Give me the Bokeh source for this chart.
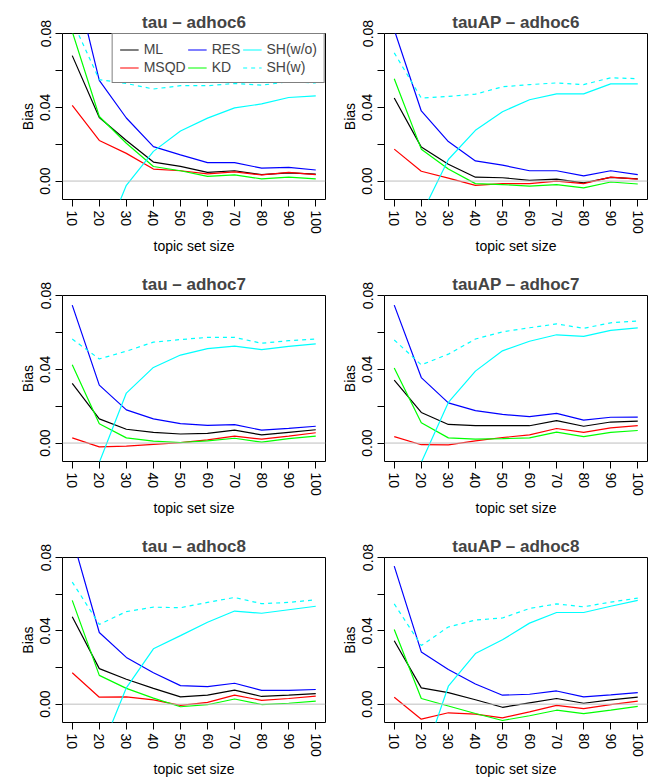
import numpy as np
from bokeh.plotting import figure
from bokeh.layouts import column, row
from bokeh.models import (Range1d, FixedTicker, CustomJSTickFormatter, Span,
                          Legend, LegendItem)
from bokeh.embed import file_html
from bokeh.resources import INLINE

# ---------------- data ----------------
topic_sizes = [10, 20, 30, 40, 50, 60, 70, 80, 90, 100]
y_ticks = [0.0, 0.02, 0.04, 0.06, 0.08]
y_tick_labels = ["0.00", "", "0.04", "", "0.08"]
methods = ["ML", "MSQD", "RES", "KD", "SH(w/o)", "SH(w)"]
panel_titles = ["tau \u2013 adhoc6", "tauAP \u2013 adhoc6",
                "tau \u2013 adhoc7", "tauAP \u2013 adhoc7",
                "tau \u2013 adhoc8", "tauAP \u2013 adhoc8"]

tau_adhoc6 = {
    "ML":      [0.068, 0.0345, 0.022, 0.0103, 0.008, 0.0047, 0.0056, 0.0035, 0.0044, 0.0038],
    "MSQD":    [0.041, 0.022, 0.015, 0.0065, 0.0056, 0.0039, 0.005, 0.0033, 0.0047, 0.0035],
    "RES":     [0.115, 0.0546, 0.0342, 0.0187, 0.0142, 0.010, 0.010, 0.007, 0.0074, 0.006],
    "KD":      [0.081, 0.035, 0.0205, 0.0079, 0.0056, 0.0025, 0.0033, 0.0012, 0.0021, 0.0012],
    "SH(w/o)": [-0.09, -0.038, -0.0023, 0.0161, 0.0271, 0.0341, 0.0397, 0.0418, 0.0453, 0.0462],
    "SH(w)":   [0.087, 0.055, 0.0529, 0.0499, 0.0517, 0.0517, 0.0529, 0.052, 0.0538, 0.0532],
}
tauap_adhoc6 = {
    "ML":      [0.045, 0.0184, 0.0091, 0.0021, 0.0018, 0.0004, 0.001, -0.001, 0.002, 0.0012],
    "MSQD":    [0.0173, 0.0053, 0.0016, -0.0023, -0.0014, -0.0014, 0.0, -0.0014, 0.0021, 0.001],
    "RES":     [0.082, 0.038, 0.0214, 0.0109, 0.0086, 0.0056, 0.0056, 0.0028, 0.0056, 0.0035],
    "KD":      [0.0555, 0.0173, 0.0065, -0.0014, -0.0019, -0.0028, -0.0019, -0.0037, -0.0005, -0.0016],
    "SH(w/o)": [-0.06, -0.0182, 0.0117, 0.0275, 0.0376, 0.0441, 0.0473, 0.0473, 0.0527, 0.0527],
    "SH(w)":   [0.0695, 0.045, 0.0459, 0.0471, 0.0511, 0.0523, 0.0532, 0.0523, 0.056, 0.0555],
}
tau_adhoc7 = {
    "ML":      [0.0323, 0.0131, 0.0075, 0.0058, 0.0049, 0.0052, 0.007, 0.0044, 0.0058, 0.0072],
    "MSQD":    [0.0028, -0.0021, -0.0017, -0.0007, 0.0002, 0.0017, 0.0038, 0.0021, 0.0038, 0.0056],
    "RES":     [0.0748, 0.0314, 0.018, 0.0131, 0.0105, 0.0096, 0.010, 0.007, 0.008, 0.0091],
    "KD":      [0.0424, 0.0105, 0.0028, 0.001, 0.0003, 0.0012, 0.0026, 0.0005, 0.0024, 0.0038],
    "SH(w/o)": [-0.05, -0.0105, 0.0271, 0.041, 0.0477, 0.0512, 0.0526, 0.0507, 0.0524, 0.0538],
    "SH(w)":   [0.0564, 0.0456, 0.0498, 0.0547, 0.0561, 0.0573, 0.0573, 0.0541, 0.0555, 0.0564],
}
tauap_adhoc7 = {
    "ML":      [0.0341, 0.0166, 0.0101, 0.0094, 0.0094, 0.0094, 0.0122, 0.0091, 0.0114, 0.0119],
    "MSQD":    [0.0035, -0.0009, -0.001, 0.0012, 0.003, 0.0044, 0.0079, 0.0058, 0.0082, 0.0094],
    "RES":     [0.0748, 0.0355, 0.0218, 0.0176, 0.0155, 0.0143, 0.0161, 0.0124, 0.014, 0.0141],
    "KD":      [0.0407, 0.011, 0.0028, 0.0021, 0.0024, 0.0028, 0.0059, 0.0035, 0.0058, 0.0068],
    "SH(w/o)": [-0.05, -0.0105, 0.022, 0.039, 0.050, 0.0552, 0.0587, 0.0578, 0.0611, 0.0625],
    "SH(w)":   [0.0559, 0.0424, 0.0482, 0.0564, 0.0603, 0.0625, 0.0646, 0.0622, 0.0652, 0.0662],
}
tau_adhoc8 = {
    "ML":      [0.0477, 0.0194, 0.0136, 0.0086, 0.004, 0.0049, 0.0077, 0.0042, 0.0049, 0.0058],
    "MSQD":    [0.0171, 0.0038, 0.004, 0.0023, -0.0007, 0.001, 0.0049, 0.0021, 0.0031, 0.0044],
    "RES":     [0.0909, 0.0391, 0.0255, 0.0171, 0.0101, 0.0096, 0.0114, 0.0075, 0.0075, 0.008],
    "KD":      [0.0566, 0.0157, 0.0086, 0.0033, -0.0014, -0.0003, 0.0028, -0.0002, 0.0005, 0.0017],
    "SH(w/o)": [-0.07, -0.0274, 0.0089, 0.0302, 0.0374, 0.0447, 0.0508, 0.0496, 0.0515, 0.0534],
    "SH(w)":   [0.0666, 0.0435, 0.0505, 0.0529, 0.0526, 0.0555, 0.0582, 0.0548, 0.0555, 0.0569],
}
tauap_adhoc8 = {
    "ML":      [0.0346, 0.0089, 0.0063, 0.0024, -0.0017, 0.0007, 0.0031, 0.0005, 0.0023, 0.0038],
    "MSQD":    [0.0038, -0.0082, -0.0047, -0.0054, -0.0075, -0.0042, -0.0007, -0.0024, -0.0003, 0.0017],
    "RES":     [0.0753, 0.0285, 0.0189, 0.011, 0.0049, 0.0054, 0.0072, 0.004, 0.0051, 0.0063],
    "KD":      [0.0407, 0.0031, -0.001, -0.0051, -0.0089, -0.0063, -0.0033, -0.0052, -0.0033, -0.0012],
    "SH(w/o)": [-0.07, -0.0332, 0.0098, 0.0276, 0.0351, 0.0442, 0.050, 0.050, 0.0534, 0.0566],
    "SH(w)":   [0.0547, 0.032, 0.0421, 0.0459, 0.047, 0.0522, 0.0547, 0.0531, 0.0557, 0.0578],
}
panels = [tau_adhoc6, tauap_adhoc6, tau_adhoc7, tauap_adhoc7, tau_adhoc8, tauap_adhoc8]

# ---------------- styles ----------------
colors = {"ML": "#000000", "MSQD": "#FF0000", "RES": "#0000FF",
          "KD": "#00FF00", "SH(w/o)": "#00FFFF", "SH(w)": "#00FFFF"}
dashes = {"SH(w)": "4 4"}
FONT = "Liberation Sans"

fmt_code = """
const labs = %s;
for (const k in labs) { if (Math.abs(parseFloat(k) - tick) < 1e-9) return labs[k]; }
return "";
""" % (str({str(t): l for t, l in zip(y_ticks, y_tick_labels)}).replace("'", '"'))

ROW_TOP = [33, 39, 39]
ROW_BOTTOM = [52, 52, 51]
COL_LEFT = [62, 58]
COL_RIGHT = [1, 9]
FRAME_W = 263
FRAME_H = 171


def make_panel(idx, data):
    col = idx % 2
    r = idx // 2
    p = figure(width=COL_LEFT[col] + FRAME_W + COL_RIGHT[col],
               height=ROW_TOP[r] + FRAME_H + ROW_BOTTOM[r],
               x_range=Range1d(6.4, 103.6), y_range=Range1d(-0.01, 0.08),
               output_backend="svg", toolbar_location=None,
               min_border_left=COL_LEFT[col], min_border_right=COL_RIGHT[col],
               min_border_top=ROW_TOP[r], min_border_bottom=ROW_BOTTOM[r],
               title=panel_titles[idx])
    p.title.text_font = FONT
    p.title.text_font_size = "17px"
    p.title.text_font_style = "bold"
    p.title.align = "center"
    p.title.offset = 0
    p.title.standoff = 4
    p.xgrid.visible = False
    p.ygrid.visible = False
    p.outline_line_color = "black"
    p.outline_line_width = 1
    p.outline_line_alpha = 1
    p.background_fill_color = "white"
    p.border_fill_color = "white"

    p.add_layout(Span(location=0, dimension="width", line_color="#BEBEBE", line_width=1))

    renderers = {}
    for m in methods:
        renderers[m] = p.line(topic_sizes, data[m], line_color=colors[m],
                              line_width=1.2, line_dash=dashes.get(m, "solid"))

    for ax in (p.xaxis[0], p.yaxis[0]):
        ax.axis_line_color = None
        ax.major_tick_out = 7
        ax.major_tick_in = 0
        ax.minor_tick_out = 0
        ax.minor_tick_in = 0
        ax.major_tick_line_color = "black"
        ax.major_label_text_font = FONT
        ax.major_label_text_font_size = "14px"
        ax.major_label_text_color = "black"
        ax.axis_label_text_font = FONT
        ax.axis_label_text_font_size = "14px"
        ax.axis_label_text_font_style = "normal"
        ax.axis_label_text_color = "black"

    p.xaxis.ticker = FixedTicker(ticks=topic_sizes)
    p.xaxis.major_label_orientation = "vertical"
    p.xaxis.major_label_standoff = 4
    p.xaxis.axis_label = "topic set size"
    p.xaxis.axis_label_standoff = 1

    p.yaxis.ticker = FixedTicker(ticks=y_ticks)
    p.yaxis.formatter = CustomJSTickFormatter(code=fmt_code)
    p.yaxis.major_label_orientation = "vertical"
    p.yaxis.major_label_standoff = 5
    p.yaxis.axis_label = "Bias"
    p.yaxis.axis_label_standoff = 2

    if idx == 0:
        items = [LegendItem(label=m, renderers=[renderers[m]]) for m in methods]
        leg = Legend(items=items, location="top_right", orientation="vertical",
                     nrows=2, margin=0, padding=7, spacing=2,
                     label_text_font=FONT, label_text_font_size="14px",
                     label_height=15, glyph_height=15, glyph_width=19,
                     label_standoff=5, border_line_color="black",
                     border_line_width=1, background_fill_color="white",
                     background_fill_alpha=1)
        p.add_layout(leg)
    return p


figs = [make_panel(i, d) for i, d in enumerate(panels)]
layout = column(row(figs[0], figs[1]), row(figs[2], figs[3]), row(figs[4], figs[5]))

open("out.html", "w").write(file_html(layout, INLINE))
